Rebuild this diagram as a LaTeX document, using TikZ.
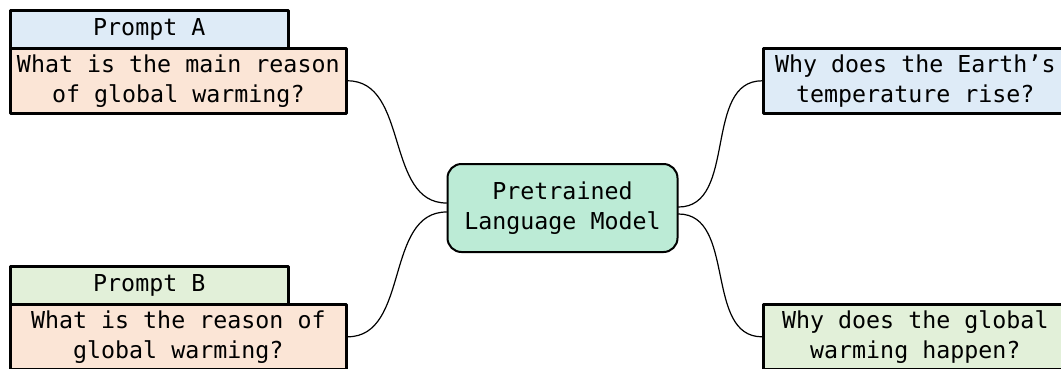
\documentclass[tikz,border=0pt]{standalone}
\usepackage{fontspec}
\setmonofont{DejaVu Sans Mono}
\definecolor{tagblue}{HTML}{DEEBF7}
\definecolor{taggreen}{HTML}{E2F0D9}
\definecolor{peach}{HTML}{FBE5D6}
\definecolor{mint}{HTML}{BCEBD6}
\begin{document}
\begin{tikzpicture}[x=1pt, y=-1pt, font=\ttfamily\fontsize{23.3}{30}\selectfont, line join=round, line cap=round,
	tag/.style={draw, line width=2.6pt, minimum width=278pt, minimum height=38pt, inner sep=0pt, anchor=north west},
	query/.style={draw, line width=2.6pt, minimum width=336pt, minimum height=65pt, inner sep=0pt, align=center, fill=peach, anchor=north west},
	answer/.style={draw, line width=2.6pt, minimum width=304pt, minimum height=65pt, inner sep=0pt, align=center, anchor=north west},
	model/.style={draw, line width=2pt, rounded corners=14pt, fill=mint, minimum width=230pt, minimum height=88pt, align=center},
	link/.style={line width=1.2pt}]
	\useasboundingbox (0,0) rectangle (1061,368);
	\clip (0,0) rectangle (1061,368);
	% left side: prompts and questions
	\node[tag, fill=tagblue] (tagA) at (9,9) {Prompt A};
	\node[query] (qA) at (9,47) {What is the main reason\\of global warming?};
	\node[tag, fill=taggreen] (tagB) at (9,265) {Prompt B};
	\node[query] (qB) at (9,303) {What is the reason of\\global warming?};
	% centre
	\node[model] (plm) at (562.5,208) {Pretrained\\Language Model};
	% right side: outputs
	\node[answer, fill=tagblue] (ansA) at (762,47) {Why does the Earth’s\\temperature rise?};
	\node[answer, fill=taggreen] (ansB) at (762,303) {Why does the global\\warming happen?};
	% links
	\draw[link] (qA.east) to[out=0, in=180] ([yshift=5pt]plm.west);
	\draw[link] (qB.east) to[out=0, in=180] ([yshift=-4pt]plm.west);
	\draw[link] ([yshift=1pt]plm.east) to[out=0, in=180] (ansA.west);
	\draw[link] ([yshift=-6pt]plm.east) to[out=0, in=180] (ansB.west);
\end{tikzpicture}
\end{document}
